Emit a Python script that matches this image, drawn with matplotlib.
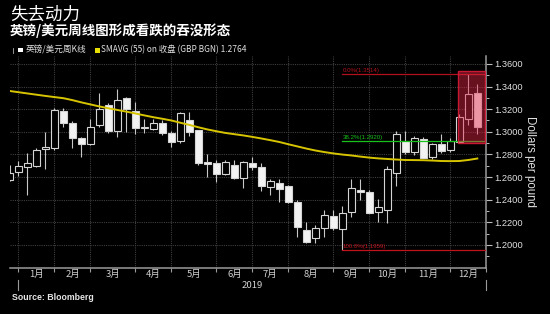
"""
GBP/USD weekly candlesticks for 2019 with the 55-week SMA and Fibonacci levels.

Saves out.png (about 550x314 px).
"""

import matplotlib
matplotlib.use("Agg")
import matplotlib.pyplot as plt
import matplotlib.transforms as mtransforms
from matplotlib.patches import Rectangle
from matplotlib.ticker import FixedLocator, FuncFormatter
import numpy as np
import pandas as pd

plt.rcParams['font.family'] = ['Noto Sans CJK SC', 'DejaVu Sans']

# weekly bars, labelled by the Friday that ends each week
week_ends = pd.date_range("2018-12-21", "2019-12-20", freq="W-FRI")

opens = [1.2578, 1.2648, 1.2687, 1.2698, 1.2846, 1.2855, 1.3187, 1.3076, 1.2943, 1.2893,
         1.3061, 1.3238, 1.3005, 1.3295, 1.3182, 1.3037, 1.3023, 1.3076, 1.2993, 1.2915,
         1.3100, 1.3017, 1.2736, 1.2725, 1.2628, 1.2707, 1.2592, 1.2722, 1.2692, 1.2516,
         1.2546, 1.2524, 1.2383, 1.2133, 1.2059, 1.2148, 1.2259, 1.2139, 1.2289, 1.2486,
         1.2471, 1.2294, 1.2309, 1.2634, 1.2919, 1.2819, 1.2934, 1.2775, 1.2893, 1.2840,
         1.2913, 1.3114, 1.3341]
highs = [1.2707, 1.2742, 1.2811, 1.2857, 1.3002, 1.3214, 1.3212, 1.3092, 1.2950, 1.3111,
         1.3346, 1.3258, 1.3380, 1.3311, 1.3267, 1.3115, 1.3115, 1.3105, 1.3010, 1.3178,
         1.3178, 1.3020, 1.2804, 1.2751, 1.2751, 1.2751, 1.2740, 1.2775, 1.2722, 1.2581,
         1.2581, 1.2530, 1.2400, 1.2206, 1.2180, 1.2310, 1.2310, 1.2345, 1.2581, 1.2581,
         1.2482, 1.2404, 1.2700, 1.3005, 1.3010, 1.2960, 1.2950, 1.2905, 1.2981, 1.2945,
         1.3155, 1.3514, 1.3421]
lows = [1.2565, 1.2613, 1.2442, 1.2685, 1.2669, 1.2840, 1.3046, 1.2858, 1.2775, 1.2884,
        1.3046, 1.2987, 1.2955, 1.2998, 1.2980, 1.2987, 1.3017, 1.2975, 1.2862, 1.2905,
        1.2962, 1.2707, 1.2604, 1.2560, 1.2615, 1.2583, 1.2501, 1.2665, 1.2480, 1.2442,
        1.2383, 1.2374, 1.2073, 1.2020, 1.2020, 1.2068, 1.2130, 1.1959, 1.2250, 1.2398,
        1.2280, 1.2206, 1.2197, 1.2522, 1.2800, 1.2796, 1.2765, 1.2760, 1.2815, 1.2826,
        1.2900, 1.3061, 1.2981]
closes = [1.2640, 1.2698, 1.2722, 1.2840, 1.2869, 1.3193, 1.3076, 1.2943, 1.2890, 1.3046,
          1.3200, 1.3010, 1.3285, 1.3202, 1.3030, 1.3043, 1.3076, 1.2990, 1.2913, 1.3170,
          1.2996, 1.2722, 1.2713, 1.2628, 1.2736, 1.2588, 1.2736, 1.2692, 1.2522, 1.2569,
          1.2495, 1.2383, 1.2156, 1.2029, 1.2148, 1.2265, 1.2148, 1.2280, 1.2501, 1.2471,
          1.2286, 1.2333, 1.2669, 1.2981, 1.2825, 1.2943, 1.2772, 1.2890, 1.2834, 1.2922,
          1.3134, 1.3332, 1.3046]
sma55 = [1.3361, 1.3350, 1.3339, 1.3328, 1.3317, 1.3307, 1.3297, 1.3280, 1.3260, 1.3242,
         1.3224, 1.3208, 1.3193, 1.3178, 1.3162, 1.3145, 1.3129, 1.3115, 1.3100, 1.3080,
         1.3061, 1.3040, 1.3021, 1.3005, 1.2990, 1.2979, 1.2968, 1.2955, 1.2941, 1.2926,
         1.2910, 1.2890, 1.2871, 1.2852, 1.2835, 1.2821, 1.2809, 1.2799, 1.2791, 1.2781,
         1.2772, 1.2765, 1.2760, 1.2755, 1.2751, 1.2750, 1.2749, 1.2746, 1.2742, 1.2741,
         1.2742, 1.2751, 1.2764]

fib_levels = [1.3514, 1.2920, 1.1959]
fib_labels = ["0.0%(1.3514)", "38.2%(1.2920)", "100.0%(1.1959)"]
fib_colors = ["#b3121c", "#18c21a", "#c0121c"]
fib_start = pd.Timestamp("2019-09-06")

highlight_weeks = [pd.Timestamp("2019-12-06"), pd.Timestamp("2019-12-20")]

month_labels = ["1月", "2月", "3月", "4月", "5月", "6月",
                "7月", "8月", "9月", "10月", "11月", "12月"]
y_major = np.round(np.arange(1.20, 1.3601, 0.02), 2)
y_minor = np.round(np.arange(1.19, 1.3651, 0.01), 2)

NARROW = ["Liberation Sans", "DejaVu Sans"]


def week_pos(day):
    return (pd.Timestamp(day) - week_ends[0]).days / 7.0


def month_boundary(day):
    # bar before the month starts (the last Friday before day 1)
    day = pd.Timestamp(day)
    back = (day.weekday() - 4) % 7 or 7
    return week_pos(day - pd.Timedelta(days=back))


W, H = 550, 314
fig = plt.figure(figsize=(W / 100, H / 100), dpi=100, facecolor="black")
ax_l, ax_r, ax_t, ax_b = 9.5, 486.3, 56.0, 267.6
ax = fig.add_axes([ax_l / W, 1 - ax_b / H, (ax_r - ax_l) / W, (ax_b - ax_t) / H])
ax.set_facecolor("black")

x = np.arange(len(week_ends))
body_w = 0.72
for xi, o, h, l, c in zip(x, opens, highs, lows, closes):
    ax.plot([xi, xi], [l, h], color="#c8c8c8", lw=0.8, zorder=2, solid_capstyle="butt")
    bottom, height = min(o, c), max(abs(c - o), 0.00045)
    up = c >= o
    ax.add_patch(Rectangle((xi - body_w / 2, bottom), body_w, height,
                           facecolor="black" if up else "#f2f2f2",
                           edgecolor="#d4d4d4", lw=0.8, zorder=3))

ax.plot(x, sma55, color="#d7c400", lw=1.4, zorder=4)

x_fib = week_pos(fib_start)
label_tf = mtransforms.offset_copy(ax.transData, fig=fig, x=0, y=0.4, units="points")
for lvl, lab, col in zip(fib_levels, fib_labels, fib_colors):
    ax.plot([x_fib, len(week_ends) + 1], [lvl, lvl], color=col, lw=0.9, zorder=5)
    ax.text(x_fib, lvl, lab, color=col, fontsize=4.4, va="bottom", ha="left",
            family=NARROW, transform=label_tf, zorder=5)

hx0 = week_pos(highlight_weeks[0]) - 0.18
hx1 = week_pos(highlight_weeks[1]) + 0.85
ax.add_patch(Rectangle((hx0, 1.2902), hx1 - hx0, 1.3538 - 1.2902,
                       facecolor=(0.90, 0.15, 0.28, 0.45),
                       edgecolor=(0.85, 0.10, 0.22, 0.9), lw=1.0, zorder=6))

bounds = [month_boundary(f"2019-{m:02d}-01") for m in range(1, 13)]
bounds.append(month_boundary("2020-01-01"))
mids = [(a + b) / 2 for a, b in zip(bounds[:-1], bounds[1:])]

ax.set_xlim(0, bounds[-1])
ax.set_ylim(1.18, 1.367)

ax.xaxis.set_major_locator(FixedLocator(bounds))
ax.xaxis.set_minor_locator(FixedLocator(mids))
ax.xaxis.set_major_formatter(FuncFormatter(lambda v, p: ""))
ax.xaxis.set_minor_formatter(FuncFormatter(lambda v, p: month_labels[p] if p < 12 else ""))
ax.tick_params(axis="x", which="major", length=3, width=0.8, color="#9a9a9a", direction="out")
ax.tick_params(axis="x", which="minor", length=0, pad=1.8, labelsize=6.8, labelcolor="#d0d0d0")

ax.yaxis.tick_right()
ax.yaxis.set_major_locator(FixedLocator(y_major))
ax.yaxis.set_minor_locator(FixedLocator(y_minor))
ax.yaxis.set_major_formatter(FuncFormatter(lambda v, p: f"{v:.4f}"))
ax.tick_params(axis="y", which="major", length=4, width=0.8, color="#bbbbbb",
               labelcolor="#e0e0e0", labelsize=6.7, pad=1.5)
ax.tick_params(axis="y", which="minor", length=2, width=0.7, color="#bbbbbb")
for t in ax.get_yticklabels():
    t.set_family(NARROW)

ax.grid(True, which="major", color="#3e3e3e", lw=0.8, linestyle=(0, (1, 1)), zorder=0)
ax.set_axisbelow(True)
for side in ("top", "left"):
    ax.spines[side].set_visible(False)
for side in ("bottom", "right"):
    ax.spines[side].set_color("#9a9a9a")
    ax.spines[side].set_linewidth(1.1)


def ax_y(py):
    return (ax_b - py) / (ax_b - ax_t)


blend = mtransforms.blended_transform_factory(ax.transData, ax.transAxes)
for b in (bounds[0], bounds[-1]):
    ax.plot([b, b], [ax_y(280), ax_y(290)], color="#9a9a9a", lw=0.8,
            transform=blend, clip_on=False)
ax.text((bounds[0] + bounds[-1]) / 2, ax_y(286), "2019", transform=blend,
        ha="center", va="center", fontsize=6.9, color="#d0d0d0")

fig.text(530 / W, 1 - 162 / H, "Dollars per pound", rotation=270, ha="center", va="center",
         fontsize=8.3, color="#e0e0e0", family=["Liberation Sans", "DejaVu Sans"])

fig.text(10 / W, 1 - 15 / H, "失去动力", fontsize=12.6, color="white", va="center")
fig.text(10 / W, 1 - 31 / H, "英镑/美元周线图形成看跌的吞没形态", fontsize=9.7,
         fontweight="bold", color="white", va="center")

# legend row
fig.add_artist(Rectangle((18.3 / W, 1 - 52.3 / H), 4.4 / W, 4.6 / H,
                         facecolor="white", edgecolor="none", transform=fig.transFigure))
fig.add_artist(plt.Line2D([13 / W, 13 / W], [1 - 48 / H, 1 - 53 / H], color="#aaaaaa",
                          lw=0.6, transform=fig.transFigure))
fig.text(25.3 / W, 1 - 50 / H, "英镑/美元周K线", fontsize=6.2, color="#e0e0e0", va="center")
fig.add_artist(Rectangle((95 / W, 1 - 52.5 / H), 4.5 / W, 4.8 / H,
                         facecolor="#e8e000", edgecolor="none", transform=fig.transFigure))
fig.text(100.7 / W, 1 - 50 / H, "SMAVG (55) on 收盘 (GBP BGN) 1.2764", fontsize=6.0,
         color="#e0e0e0", va="center")

fig.text(12 / W, 1 - 298 / H, "Source: Bloomberg", fontsize=6.3, fontweight="bold",
         color="#e8e8e8", va="center", family=["Liberation Sans", "DejaVu Sans"])

fig.savefig("out.png", dpi=100, facecolor="black")
